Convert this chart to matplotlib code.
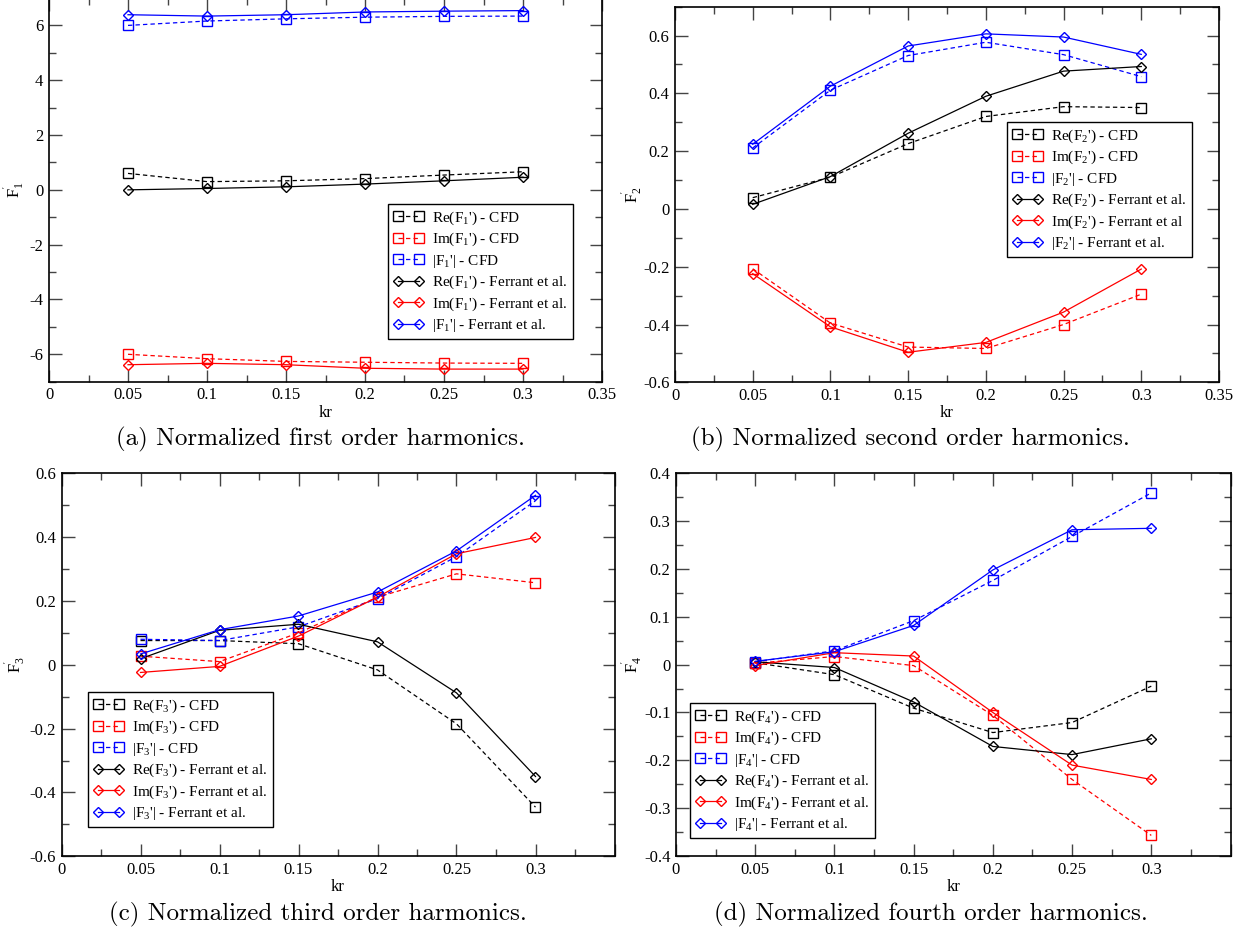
import numpy as np
import matplotlib
matplotlib.use("Agg")
import matplotlib.pyplot as plt
from matplotlib.ticker import MultipleLocator, FuncFormatter

plt.rcParams['font.family'] = ['Liberation Serif', 'DejaVu Serif']
plt.rcParams['mathtext.fontset'] = 'custom'
plt.rcParams['mathtext.rm'] = 'Liberation Serif'
plt.rcParams['mathtext.it'] = 'Liberation Serif:italic'
plt.rcParams['axes.unicode_minus'] = False

kr = [0.05, 0.10, 0.15, 0.20, 0.25, 0.30]

# (a) first order
re1_cfd = [0.60, 0.30, 0.33, 0.41, 0.54, 0.66]
im1_cfd = [-6.00, -6.16, -6.26, -6.29, -6.32, -6.33]
abs1_cfd = [6.00, 6.16, 6.24, 6.30, 6.33, 6.34]
re1_fer = [0.00, 0.05, 0.11, 0.21, 0.33, 0.46]
im1_fer = [-6.38, -6.33, -6.38, -6.51, -6.54, -6.54]
abs1_fer = [6.39, 6.34, 6.39, 6.49, 6.52, 6.54]

# (b) second order
re2_cfd = [0.039, 0.110, 0.226, 0.320, 0.354, 0.351]
im2_cfd = [-0.207, -0.395, -0.478, -0.483, -0.400, -0.295]
abs2_cfd = [0.211, 0.411, 0.531, 0.577, 0.534, 0.458]
re2_fer = [0.016, 0.112, 0.262, 0.390, 0.477, 0.493]
im2_fer = [-0.224, -0.408, -0.496, -0.462, -0.357, -0.208]
abs2_fer = [0.224, 0.425, 0.564, 0.606, 0.595, 0.535]

# (c) third order
re3_cfd = [0.076, 0.076, 0.066, -0.016, -0.185, -0.446]
im3_cfd = [0.027, 0.010, 0.100, 0.212, 0.285, 0.257]
abs3_cfd = [0.080, 0.076, 0.119, 0.207, 0.339, 0.514]
re3_fer = [0.019, 0.108, 0.127, 0.072, -0.088, -0.350]
im3_fer = [-0.024, -0.005, 0.090, 0.212, 0.348, 0.399]
abs3_fer = [0.034, 0.110, 0.153, 0.228, 0.357, 0.531]

# (d) fourth order
re4_cfd = [0.004, -0.021, -0.091, -0.142, -0.121, -0.045]
im4_cfd = [0.003, 0.017, -0.002, -0.106, -0.240, -0.357]
abs4_cfd = [0.006, 0.029, 0.092, 0.176, 0.268, 0.359]
re4_fer = [0.006, -0.006, -0.078, -0.171, -0.188, -0.155]
im4_fer = [-0.002, 0.025, 0.018, -0.100, -0.210, -0.240]
abs4_fer = [0.007, 0.027, 0.082, 0.198, 0.282, 0.285]

captions = ["(a) Normalized first order harmonics.",
            "(b) Normalized second order harmonics.",
            "(c) Normalized third order harmonics.",
            "(d) Normalized fourth order harmonics."]

W, H = 1239, 941
fig = plt.figure(figsize=(W / 100, H / 100), dpi=100)


def px_axes(left, top, right, bottom):
    return fig.add_axes([left / W, 1 - bottom / H, (right - left) / W, (bottom - top) / H])


panels = [
    dict(rect=(49, -2, 602, 381.7), n=1, ylim=(-7, 7), ymaj=2, ymin=1,
         data=(re1_cfd, im1_cfd, abs1_cfd, re1_fer, im1_fer, abs1_fer),
         leg=(388, 204), lab35=True, ylx=27, fer_im="Ferrant et al.",
         cap=(321, 445)),
    dict(rect=(675, 6.7, 1219, 382.3), n=2, ylim=(-0.6, 0.7), ymaj=0.2, ymin=0.1,
         data=(re2_cfd, im2_cfd, abs2_cfd, re2_fer, im2_fer, abs2_fer),
         leg=(1007, 122), lab35=True, ylx=645, fer_im="Ferrant et al",
         cap=(910, 445)),
    dict(rect=(61.5, 473.3, 614.5, 856.3), n=3, ylim=(-0.6, 0.6), ymaj=0.2, ymin=0.1,
         data=(re3_cfd, im3_cfd, abs3_cfd, re3_fer, im3_fer, abs3_fer),
         leg=(88, 692), lab35=False, ylx=28, fer_im="Ferrant et al.",
         cap=(318, 920)),
    dict(rect=(676, 473.3, 1230.5, 856), n=4, ylim=(-0.4, 0.4), ymaj=0.1, ymin=0.05,
         data=(re4_cfd, im4_cfd, abs4_cfd, re4_fer, im4_fer, abs4_fer),
         leg=(690, 703), lab35=False, ylx=645, fer_im="Ferrant et al.",
         cap=(931, 920)),
]

fmt = FuncFormatter(lambda v, p: "%g" % round(v, 6))
dash = (0, (3.5, 2.5))

for i, P in enumerate(panels):
    ax = px_axes(*P['rect'])
    n = P['n']
    re_c, im_c, ab_c, re_f, im_f, ab_f = P['data']
    common = dict(lw=0.9, mfc='none', mew=1.0)
    sq, dm = 6.5, 5.0
    ax.plot(kr, re_c, color='black', ls=dash, marker='s', ms=sq, label="Re(F$_%d$') - CFD" % n, **common)
    ax.plot(kr, im_c, color='red', ls=dash, marker='s', ms=sq, label="Im(F$_%d$') - CFD" % n, **common)
    ax.plot(kr, ab_c, color='blue', ls=dash, marker='s', ms=sq, label="|F$_%d$'| - CFD" % n, **common)
    ax.plot(kr, re_f, color='black', ls='-', marker='D', ms=dm, label="Re(F$_%d$') - Ferrant et al." % n, **common)
    ax.plot(kr, im_f, color='red', ls='-', marker='D', ms=dm, label="Im(F$_%d$') - %s" % (n, P['fer_im']), **common)
    ax.plot(kr, ab_f, color='blue', ls='-', marker='D', ms=dm, label="|F$_%d$'| - Ferrant et al." % n, **common)

    ax.set_xlim(0, 0.35)
    ax.set_ylim(*P['ylim'])
    xt = np.arange(0, 0.351, 0.05)
    ax.set_xticks(xt)
    ax.set_xticklabels(["%g" % round(v, 2) if (P['lab35'] or v < 0.34) else "" for v in xt])
    ax.xaxis.set_minor_locator(MultipleLocator(0.025))
    ax.yaxis.set_major_locator(MultipleLocator(P['ymaj']))
    ax.yaxis.set_minor_locator(MultipleLocator(P['ymin']))
    ax.yaxis.set_major_formatter(fmt)
    ax.tick_params(which='both', direction='in', top=True, right=True, labelsize=12,
                   color='#444444', width=1.0)
    ax.tick_params(which='major', length=9, pad=4)
    ax.tick_params(which='minor', length=5)
    for s in ax.spines.values():
        s.set_linewidth(1.2)
    ax.set_xlabel("kr", fontsize=12, labelpad=1)
    ax.set_ylabel("F$_%d^{'}$" % n, fontsize=12)
    left, top, right, bottom = P['rect']
    ax.yaxis.set_label_coords((P['ylx'] - left) / (right - left), 0.5)

    lx, ly = P['leg']
    leg = ax.legend(loc='upper left', bbox_to_anchor=(lx / W, 1 - ly / H),
                    bbox_transform=fig.transFigure, fontsize=11, numpoints=2,
                    handlelength=2.0, handletextpad=0.55, labelspacing=0.28,
                    borderpad=0.35, borderaxespad=0, fancybox=False,
                    frameon=True, edgecolor='black', framealpha=1)
    leg.get_frame().set_linewidth(1.0)

    cx, cy = P['cap']
    fig.text(cx / W, 1 - cy / H, captions[i], ha='center', va='baseline',
             fontsize=18, family='cmr10')

fig.savefig("out.png", dpi=100)
